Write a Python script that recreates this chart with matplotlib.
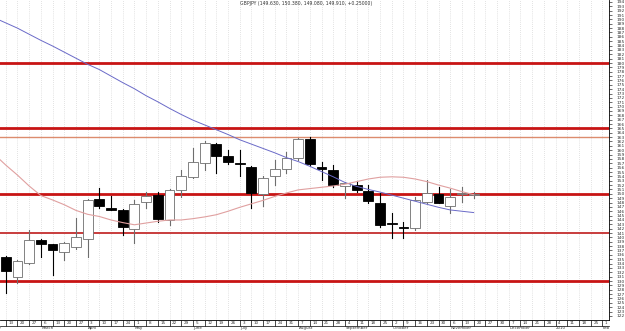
import numpy as np
import matplotlib
matplotlib.use("Agg")
import matplotlib.pyplot as plt
from matplotlib.patches import Rectangle

# ---------------------------
# 1. Weekly GBPJPY candles (Feb 13 2009 -> Nov 20 2009)
# ---------------------------
opens = [135.6, 131.0, 134.2, 139.4, 138.4, 136.7, 137.9, 139.6, 148.75, 146.8,
         146.3, 141.9, 148.1, 149.7, 144.1, 150.9, 153.9, 157.0, 161.4, 158.7,
         157.1, 156.2, 150.0, 154.1, 155.6, 158.1, 162.6, 156.2, 155.5, 151.9,
         152.0, 150.6, 148.0, 143.2, 142.5, 142.1, 148.2, 149.9, 147.1, 150.0,
         149.63]
highs = [135.8, 134.8, 141.7, 139.6, 138.6, 138.9, 144.5, 148.8, 151.3, 149.5,
         146.5, 148.6, 150.5, 150.5, 151.2, 155.5, 160.4, 162.0, 161.6, 160.0,
         160.0, 156.4, 154.2, 157.8, 159.5, 162.9, 163.0, 157.2, 156.6, 152.8,
         153.0, 152.0, 150.1, 145.5, 143.6, 149.3, 153.2, 151.6, 151.0, 151.6,
         150.38]
lows = [127.2, 129.5, 133.8, 135.6, 131.4, 134.8, 137.3, 135.6, 146.8, 146.2,
        140.5, 138.8, 146.7, 143.6, 142.8, 149.3, 153.6, 155.5, 154.7, 156.9,
        154.0, 146.7, 147.1, 152.0, 154.8, 157.8, 156.3, 153.2, 151.5, 149.0,
        150.5, 148.0, 142.5, 139.8, 139.8, 141.8, 147.9, 147.8, 145.5, 148.2,
        149.08]
closes = [132.2, 134.6, 139.4, 138.5, 137.1, 138.65, 140.0, 148.6, 147.2, 146.4,
          142.5, 147.7, 149.5, 144.2, 150.9, 154.1, 157.4, 161.6, 158.7, 157.2,
          156.9, 150.1, 153.7, 155.6, 158.1, 162.6, 156.8, 155.6, 152.0, 152.4,
          150.9, 148.3, 142.8, 143.0, 142.1, 148.6, 150.1, 148.0, 149.2, 150.2,
          149.91]

# moving averages, starting one week before the first candle (Feb 6)
slow_ma = [190.4, 189.2, 188.0, 186.6, 185.2, 183.9, 182.5, 181.1, 179.7, 178.5,
           177.0, 175.5, 174.1, 172.5, 171.1, 169.6, 168.2, 166.9, 165.8, 164.7,
           163.6, 162.4, 161.4, 160.4, 159.4, 158.3, 157.4, 156.3, 155.1, 153.9,
           152.6, 151.7, 151.0, 150.4, 149.7, 149.0, 148.3, 147.6, 146.9, 146.3,
           146.0, 145.7]
fast_ma = [159.1, 156.6, 154.3, 151.8, 149.6, 148.6, 147.5, 146.2, 145.3, 144.8,
           144.0, 143.4, 142.9, 143.3, 143.7, 144.0, 144.0, 144.3, 144.7, 145.2,
           146.0, 146.9, 147.7, 148.5, 149.4, 150.2, 150.9, 151.2, 151.5, 151.8,
           152.2, 152.8, 153.4, 153.8, 153.9, 153.8, 153.4, 152.8, 152.0, 151.3,
           150.5, 149.8]

# support / resistance levels
levels = [180, 165, 150, 130]
thin_level = 163
mid_level = 141

# x axis labels (one per week, future weeks included)
day_labels = ["13", "20", "27", "6", "13", "20", "27", "3", "10", "17", "24",
              "1", "8", "15", "22", "29", "5", "12", "19", "26", "3", "10", "17",
              "24", "31", "7", "14", "21", "28", "4", "11", "18", "25", "2", "9",
              "16", "23", "30", "6", "13", "20", "27", "30", "7", "14", "21", "28",
              "4", "11", "18", "25", "1"]
month_names = ["February", "March", "April", "May", "June", "July", "August",
               "September", "October", "November", "December", "2010", "Feb"]
month_starts = [-1.9, 3, 7, 11, 16, 20, 25, 29, 33, 38, 43, 47, 51]

title = "GBPJPY (149.630, 150.380, 149.080, 149.910, +0.25000)"

# ---------------------------
# 2. Figure
# ---------------------------
fig = plt.figure(figsize=(6.25, 3.31), dpi=100)
ax = fig.add_axes([0, 11 / 331, 609 / 625, 320 / 331])
ax.set_xlim(-0.49, 51.57)
ax.set_ylim(121.06, 194.45)

n = len(opens)
for i in range(n):
    o, h, l, c = opens[i], highs[i], lows[i], closes[i]
    up = c >= o
    col = "#6e6e6e" if up else "black"
    ax.plot([i, i], [l, h], color=col, lw=0.8, zorder=3)
    body = max(abs(c - o), 0.15)
    ax.add_patch(Rectangle((i - 0.42, min(o, c)), 0.84, body,
                           facecolor="white" if up else "black",
                           edgecolor=col, lw=0.6, zorder=4))

ma_x = np.arange(-1, n)
ax.plot(ma_x, slow_ma, color="#6a6ac8", lw=0.7, zorder=5)
ax.plot(ma_x, fast_ma, color="#e0a0a0", lw=0.8, zorder=5)

for lv in levels:
    ax.axhline(lv, color="#c81414", lw=2.0, zorder=2)
ax.axhline(thin_level, color="#dc8c6e", lw=1.0, zorder=2)
ax.axhline(mid_level, color="#c83c3c", lw=1.4, zorder=2)

# vertical dotted grid at every week
for i in range(len(day_labels)):
    ax.axvline(i, color="#c8c8c8", lw=0.5, ls=(0, (1, 2)), zorder=1)

# ---------------------------
# 3. Axes styling
# ---------------------------
for side in ["left", "top"]:
    ax.spines[side].set_visible(False)
ax.spines["right"].set_linewidth(0.6)
ax.spines["bottom"].set_linewidth(0.6)

ax.yaxis.tick_right()
ax.set_yticks(range(122, 195))
ax.set_yticklabels([str(v) for v in range(122, 195)], fontsize=3.2, color="#333333")
ax.tick_params(axis="y", length=2.5, width=0.4, pad=3)

ax.set_xticks(range(len(day_labels)))
ax.set_xticklabels([])
ax.tick_params(axis="x", length=4.3, width=0.5, direction="out")

trans = ax.get_xaxis_transform()
for i, lab in enumerate(day_labels):
    ax.text(i + 0.22, -0.0095, lab, transform=trans, fontsize=3.0,
            ha="left", va="center", color="#333333", clip_on=False)
ax.plot([-0.49, 51.57], [-0.019, -0.019], transform=trans, color="black",
        lw=0.5, clip_on=False)
for name, pos in zip(month_names, month_starts):
    ax.text(pos + 0.05, -0.0265, name, transform=trans, fontsize=2.9,
            ha="left", va="center", color="#333333", clip_on=False)

fig.text(0.49, 0.988, title, fontsize=3.3, ha="center", va="center", color="#333333")

fig.savefig("out.png", dpi=100)
